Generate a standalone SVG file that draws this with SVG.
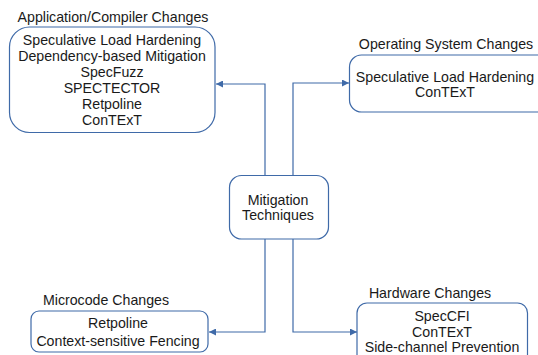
<svg xmlns="http://www.w3.org/2000/svg" width="538" height="355" viewBox="0 0 538 355">
<style>
.box{fill:#fff;stroke:#3f6aa8;stroke-width:1.2}
.t{font-family:"Liberation Sans",Arial,sans-serif;font-size:14.2px;fill:#1a1a1a;text-anchor:middle}
.c{fill:none;stroke:#3f6aa8;stroke-width:1.2}
</style>
<defs>
<marker id="ah" viewBox="0 0 10 10" refX="10" refY="5" markerWidth="7" markerHeight="7" markerUnits="userSpaceOnUse" orient="auto">
<path d="M0,0 L10,5 L0,10 z" fill="#3f6aa8"/>
</marker>
</defs>
<rect width="538" height="355" fill="#fff"/>
<g id="connectors">
<polyline class="c" points="265,176 265,84 216,84" marker-end="url(#ah)"/>
<polyline class="c" points="293,176 293,83 349,83" marker-end="url(#ah)"/>
<polyline class="c" points="265,239 265,332 209,332" marker-end="url(#ah)"/>
<polyline class="c" points="293,239 293,332 357,332" marker-end="url(#ah)"/>
</g>
<g id="app">
<text class="t" x="113" y="22">Application/Compiler Changes</text>
<rect class="box" x="9.5" y="27" width="205.5" height="105.5" rx="20"/>
<text class="t" x="112" y="45">Speculative Load Hardening</text>
<text class="t" x="112" y="61">Dependency-based Mitigation</text>
<text class="t" x="112" y="77">SpecFuzz</text>
<text class="t" x="112" y="93">SPECTECTOR</text>
<text class="t" x="112" y="109">Retpoline</text>
<text class="t" x="112" y="125">ConTExT</text>
</g>
<g id="os">
<text class="t" x="446" y="49">Operating System Changes</text>
<rect class="box" x="349.5" y="55" width="200" height="57" rx="12"/>
<text class="t" x="445" y="82">Speculative Load Hardening</text>
<text class="t" x="445" y="97">ConTExT</text>
</g>
<g id="mitigation">
<rect class="box" x="229.5" y="175.5" width="99" height="63.5" rx="12"/>
<text class="t" x="278" y="205">Mitigation</text>
<text class="t" x="278" y="220">Techniques</text>
</g>
<g id="microcode">
<text class="t" x="106" y="305">Microcode Changes</text>
<rect class="box" x="31" y="311" width="177" height="41" rx="8"/>
<text class="t" x="118" y="328">Retpoline</text>
<text class="t" x="118" y="346">Context-sensitive Fencing</text>
</g>
<g id="hardware">
<text class="t" x="430" y="298">Hardware Changes</text>
<rect class="box" x="357" y="303" width="170.5" height="70" rx="10"/>
<text class="t" x="442" y="321">SpecCFI</text>
<text class="t" x="442" y="337">ConTExT</text>
<text class="t" x="442" y="352">Side-channel Prevention</text>
</g>
</svg>
